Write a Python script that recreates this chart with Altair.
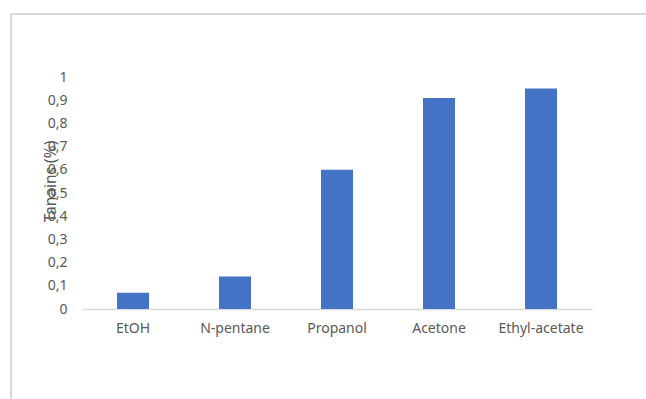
import altair as alt
import pandas as pd

solvents = ["EtOH", "N-pentane", "Propanol", "Acetone", "Ethyl-acetate"]
tannins = [0.07, 0.14, 0.60, 0.91, 0.95]
y_ticks = [0, 0.1, 0.2, 0.3, 0.4, 0.5, 0.6, 0.7, 0.8, 0.9, 1.0]

df = pd.DataFrame({"solvent": solvents, "tannins": tannins})

FONT = "Noto Sans"
GREY = "#595959"
FRAME = "#d9d9d9"

PLOT_W, PLOT_H = 510, 232
PAD = {"left": 82, "top": 77, "right": 54, "bottom": 90}

bars = alt.Chart(df).mark_bar(color="#4472C4").encode(
    x=alt.X(
        "solvent:N",
        sort=solvents,
        title=None,
        scale=alt.Scale(paddingInner=0.686, paddingOuter=0.343),
        axis=alt.Axis(
            domainColor=FRAME,
            domainWidth=1.5,
            ticks=False,
            labelAngle=0,
            labelPadding=12,
            labelFont=FONT,
            labelFontSize=14,
            labelColor=GREY,
        ),
    ),
    y=alt.Y(
        "tannins:Q",
        title="Tanains (%)",
        scale=alt.Scale(domain=[0, 1], nice=False),
        axis=alt.Axis(
            values=y_ticks,
            labelExpr="replace(format(datum.value, '~g'), '.', ',')",
            domain=False,
            ticks=False,
            grid=False,
            labelPadding=15,
            labelFont=FONT,
            labelFontSize=14,
            labelColor=GREY,
            titleFont=FONT,
            titleFontSize=15.5,
            titleFontWeight="normal",
            titleColor=GREY,
            titleAngle=270,
            titleBaseline="middle",
            titleAlign="center",
            titleX=-32,
            titleY=104,
        ),
    ),
)

# light frame along the top and left of the chart area, ending at the canvas edge
right_edge = PLOT_W + PAD["right"]
bottom_edge = PLOT_H + PAD["bottom"]
frame_top = alt.Chart(df).mark_rule(color=FRAME, strokeWidth=1.5).encode(
    x=alt.value(-71), x2=alt.value(right_edge), y=alt.value(-63)
)
frame_left = alt.Chart(df).mark_rule(color=FRAME, strokeWidth=1.5).encode(
    x=alt.value(-71), y=alt.value(-63), y2=alt.value(bottom_edge)
)

chart = (
    alt.layer(frame_top, frame_left, bars)
    .properties(
        width=PLOT_W,
        height=PLOT_H,
        autosize=alt.AutoSizeParams(type="none"),
        padding=PAD,
        background="white",
    )
    .configure_view(stroke=None)
)

chart.save("out.html", embed_options={"renderer": "svg", "actions": False})
